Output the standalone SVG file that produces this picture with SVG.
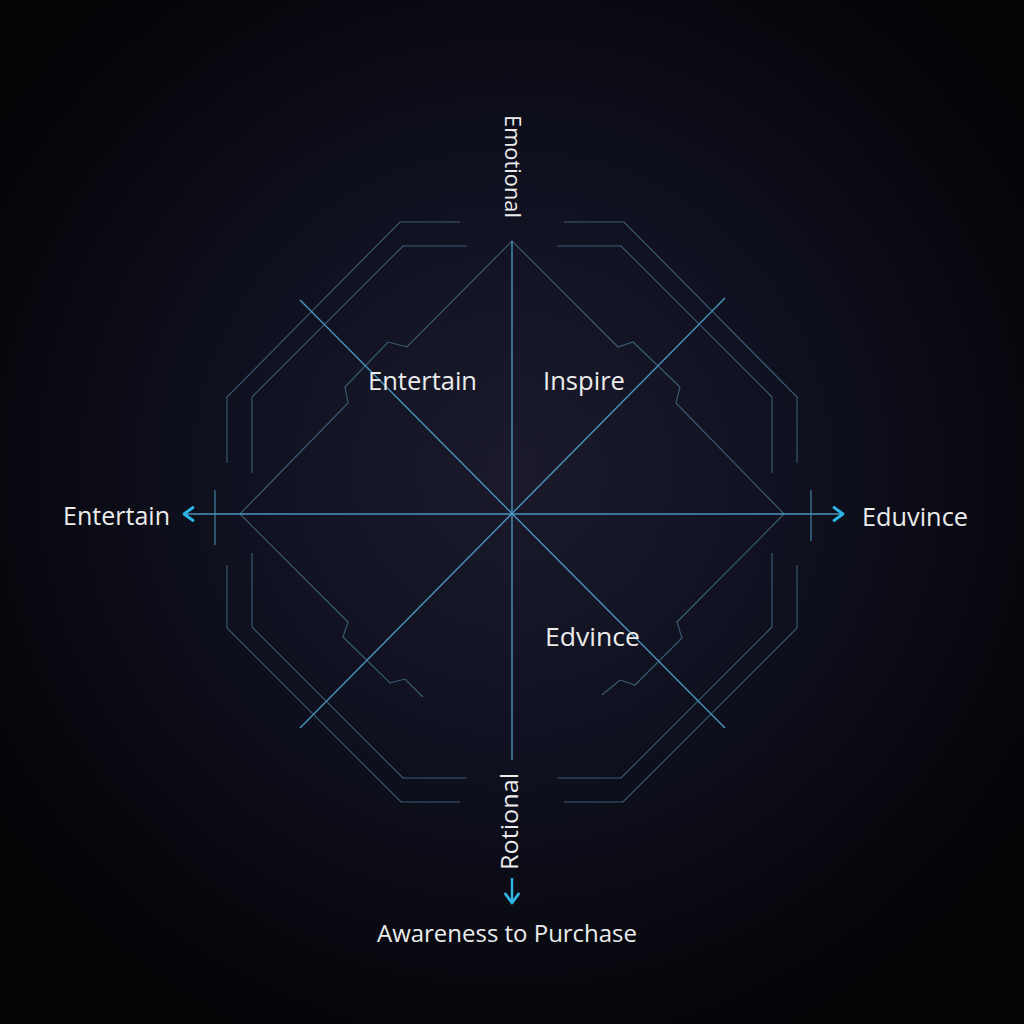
<svg xmlns="http://www.w3.org/2000/svg" width="1024" height="1024" viewBox="0 0 1024 1024">
  <defs>
    <radialGradient id="bg" cx="512" cy="470" r="620" gradientUnits="userSpaceOnUse">
      <stop offset="0" stop-color="#1a1a2c"/>
      <stop offset="0.45" stop-color="#101120"/>
      <stop offset="1" stop-color="#030406"/>
    </radialGradient>
    <marker id="arr" viewBox="0 0 16 16" refX="13" refY="8" markerWidth="16" markerHeight="16" markerUnits="userSpaceOnUse" orient="auto">
      <path d="M4,1.5 L13,8 L4,14.5" fill="none" stroke="#2bb8e8" stroke-width="2.8" stroke-linecap="round" stroke-linejoin="round"/>
    </marker>
    <style>
      .frame { fill: none; stroke: #3a5f74; stroke-width: 1.1; }
      .axis { fill: none; stroke: #4a94bd; stroke-width: 1.4; }
      .tick { fill: none; stroke: #3f7a98; stroke-width: 1.3; }
      .arrow { fill: none; stroke: #2bb8e8; stroke-width: 2.4; }
      .lbl { font-family: "Open Sans", "Noto Sans", "Liberation Sans", sans-serif; fill: #ececec; }
    </style>
  </defs>
  <rect width="1024" height="1024" fill="url(#bg)"/>

  <g id="frames">
    <!-- outer frame lines -->
    <polyline class="frame" points="460,222 400,222 227,397 227,463"/>
    <polyline class="frame" points="564,222 624,222 797,397 797,463"/>
    <polyline class="frame" points="227,565 227,628 401,802 460,802"/>
    <polyline class="frame" points="797,565 797,628 623,802 564,802"/>
    <!-- inner frame lines -->
    <polyline class="frame" points="467,246 403,246 252,397 252,473"/>
    <polyline class="frame" points="557,246 621,246 772,397 772,473"/>
    <polyline class="frame" points="252,553 252,627 403,778 467,778"/>
    <polyline class="frame" points="772,553 772,627 621,778 557,778"/>
    <!-- notched diamond -->
    <polyline class="frame" points="240,514 348,403 345,387 388,342 407,347 512,241 618,347 633,342 680,387 676,403 784,514"/>
    <polyline class="frame" points="240,514 348,622 343,637 390,683 405,679 423,697"/>
    <polyline class="frame" points="784,514 677,622 682,638 635,685 620,680 602,695"/>
  </g>

  <g id="connectors">
    <line class="axis" x1="512" y1="241" x2="512" y2="760"/>
    <line class="axis" x1="300" y1="300" x2="725" y2="728"/>
    <line class="axis" x1="725" y1="298" x2="300" y2="728"/>
    <line class="axis" x1="240" y1="514" x2="784" y2="514"/>
    <line class="tick" x1="215" y1="490" x2="215" y2="545"/>
    <line class="tick" x1="811" y1="490" x2="811" y2="541"/>
    <line class="axis" x1="240" y1="514" x2="184" y2="514" marker-end="url(#arr)"/>
    <line class="axis" x1="784" y1="514" x2="843" y2="514" marker-end="url(#arr)"/>
    <line class="arrow" x1="512" y1="878" x2="512" y2="903" marker-end="url(#arr)"/>
  </g>

  <g id="node-emotional">
    <text class="lbl" font-size="22" transform="translate(505,115) rotate(90)" textLength="103" lengthAdjust="spacingAndGlyphs">Emotional</text>
  </g>
  <g id="node-rotional">
    <text class="lbl" font-size="23" transform="translate(518,870) rotate(-90)" textLength="97" lengthAdjust="spacingAndGlyphs">Rotional</text>
  </g>
  <g id="node-entertain-left">
    <text class="lbl" font-size="25" x="63" y="525" textLength="107" lengthAdjust="spacingAndGlyphs">Entertain</text>
  </g>
  <g id="node-eduvince-right">
    <text class="lbl" font-size="25" x="862" y="526" textLength="106" lengthAdjust="spacingAndGlyphs">Eduvince</text>
  </g>
  <g id="node-entertain">
    <text class="lbl" font-size="26" x="368" y="390" textLength="109" lengthAdjust="spacingAndGlyphs">Entertain</text>
  </g>
  <g id="node-inspire">
    <text class="lbl" font-size="26" x="543" y="390" textLength="82" lengthAdjust="spacingAndGlyphs">Inspire</text>
  </g>
  <g id="node-edvince">
    <text class="lbl" font-size="26" x="545" y="646" textLength="95" lengthAdjust="spacingAndGlyphs">Edvince</text>
  </g>
  <g id="node-awareness">
    <text class="lbl" font-size="24" x="377" y="942" textLength="260" lengthAdjust="spacingAndGlyphs">Awareness to Purchase</text>
  </g>
</svg>
